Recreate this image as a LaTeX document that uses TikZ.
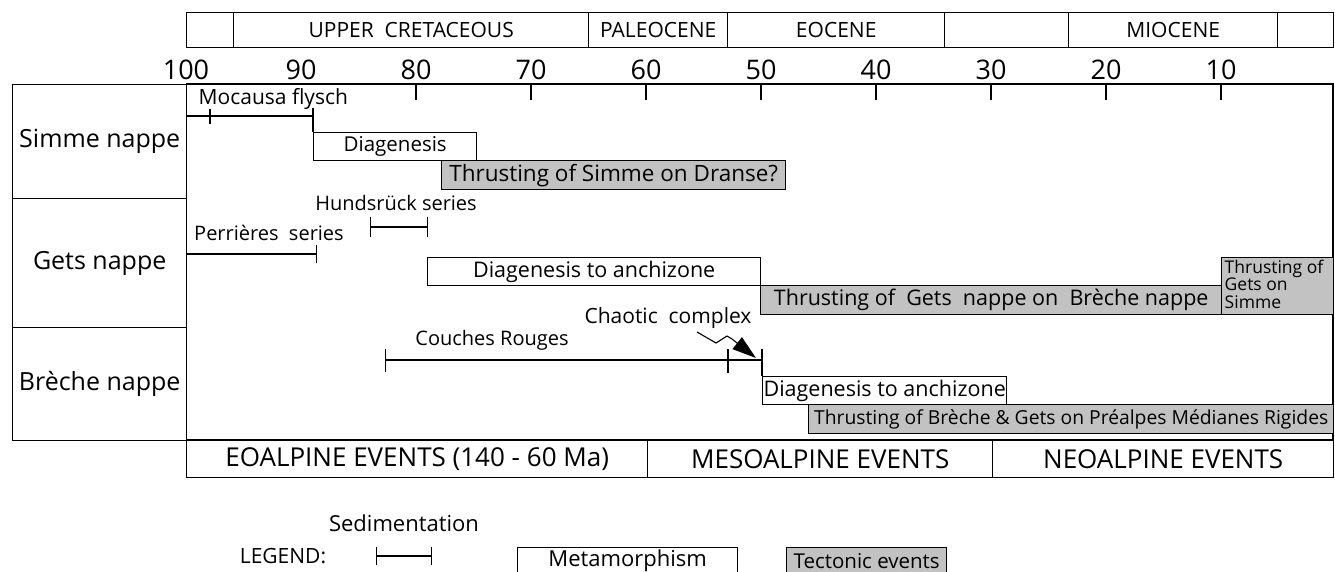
\documentclass[tikz,border=0pt]{standalone}
\usepackage{fontspec}
\setmainfont{Open Sans}
\usetikzlibrary{arrows.meta}
\definecolor{tectgray}{gray}{0.76}
\begin{document}
\begin{tikzpicture}[x=1pt,y=-1pt,line width=1.4pt,
  lab/.style={inner sep=0pt,font=\fontsize{20}{22}\selectfont},
  num/.style={inner sep=0pt,font=\fontsize{27}{29}\selectfont},
  rowlab/.style={draw,inner sep=0pt,anchor=north west,minimum width=174pt,font=\fontsize{25}{27}\selectfont},
  period/.style={draw,inner sep=0pt,anchor=north west,minimum height=35pt,font=\fontsize{21}{23}\selectfont},
  eventbox/.style={draw,inner sep=0pt,anchor=north west,minimum height=37pt,font=\fontsize{26}{28}\selectfont},
  metabox/.style={draw,fill=white,inner sep=0pt,anchor=north west,font=\fontsize{21.5}{23}\selectfont},
  tectbox/.style={metabox,fill=tectgray},
  sedbar/.style={line width=1.4pt},
  tickmark/.style={line width=1.4pt}
]
\useasboundingbox (0,0) rectangle (1335,571);

% ---- period bar ----
\node[period,minimum width=47pt] (p0) at (186,12) {};
\node[period,minimum width=355pt] (p1) at (233,12) {UPPER\ \ CRETACEOUS};
\node[period,minimum width=139pt] (p2) at (588,12) {PALEOCENE};
\node[period,minimum width=217pt] (p3) at (727,12) {EOCENE};
\node[period,minimum width=124pt] (p4) at (944,12) {};
\node[period,minimum width=209pt] (p5) at (1068,12) {MIOCENE};
\node[period,minimum width=56pt] (p6) at (1277,12) {};

% ---- age axis ----
\foreach \a in {100,90,...,10}{
  \node[num] (n\a) at ({186+(100-\a)*11.5},70) {\a};
}
\foreach \a in {80,70,...,10}{
  \draw[tickmark] ({186+(100-\a)*11.5},84) -- ({186+(100-\a)*11.5},100);
}

% ---- frame ----
\node[rowlab,minimum height=114pt] (simme) at (12,84) {Simme nappe};
\node[rowlab,minimum height=129pt] (gets) at (12,198) {Gets nappe};
\node[rowlab,minimum height=113pt] (breche) at (12,327) {Brèche nappe};
\draw (186,84) -- (1333,84) -- (1333,440) -- (186,440);

% ---- events bar ----
\node[eventbox,minimum width=461pt] (eo) at (186,440) {EOALPINE EVENTS (140 - 60 Ma)};
\node[eventbox,minimum width=345pt] (meso) at (647,440) {MESOALPINE EVENTS};
\node[eventbox,minimum width=341pt] (neo) at (992,440) {NEOALPINE EVENTS};

% ---- Simme nappe ----
\node[lab,anchor=west,font=\fontsize{21}{23}\selectfont] (moctxt) at (198,99) {Mocausa flysch};
\coordinate (moc0) at (186,116);
\coordinate (moc1) at (313,116);
\draw[sedbar] (moc0) -- (moc1);
\draw[tickmark] (210,109) -- (210,124);
\draw[tickmark] (313,108) -- (313,132);
\node[metabox,minimum width=163pt,minimum height=28pt,font=\fontsize{20.5}{22}\selectfont] (diagS) at (313,132) {Diagenesis};
\node[tectbox,minimum width=344pt,minimum height=29pt,font=\fontsize{22.5}{24}\selectfont] (thrS) at (441,160) {Thrusting of Simme on Dranse?};

% ---- Gets nappe ----
\node[lab] (hunds) at (396,203) {Hundsrück series};
\coordinate (hu0) at (370,227);
\coordinate (hu1) at (428,227);
\draw[sedbar,{Bar[width=20pt]}-{Bar[width=20pt]}] (hu0) -- (hu1);
\node[lab] (perr) at (269,233) {Perrières\ \ series};
\coordinate (pe0) at (186,254);
\coordinate (pe1) at (317,254);
\draw[sedbar,-{Bar[width=18pt]}] (pe0) -- (pe1);
\node[metabox,minimum width=333pt,minimum height=28pt] (diagG) at (427,257) {Diagenesis to anchizone};
\node[tectbox,minimum width=461pt,minimum height=29pt] (thrG) at (760,285) {Thrusting of\ \ Gets\ \ nappe on\ \ Brèche nappe};
\node[tectbox,minimum width=112pt,minimum height=57pt] (thrGS) at (1221,257) {};
\node[inner sep=0pt,anchor=north west,align=left,font=\fontsize{17.5}{17.5}\selectfont] (thrGStxt) at (1224,259) {Thrusting of\\Gets on\\Simme};

% ---- Breche nappe ----
\node[lab,font=\fontsize{21}{23}\selectfont] (chaos) at (668,318) {Chaotic\ \ complex};
\node[lab] (couches) at (492,340) {Couches Rouges};
\coordinate (cr0) at (385,360);
\coordinate (cr1) at (762,360);
\draw[sedbar,{Bar[width=23pt]}-] (cr0) -- (cr1);
\draw[tickmark] (728,349) -- (728,373);
\draw[tickmark] (762,349) -- (762,376);
\coordinate (zz0) at (697,332);
\coordinate (zztip) at (756,358);
\draw[line width=1.1pt,-{Triangle[length=24pt,width=15pt]}] (zz0) -- (716,343) -- (727,336) -- (732,339) -- (zztip);
\node[metabox,minimum width=244pt,minimum height=28pt] (diagB) at (762,376) {Diagenesis to anchizone};
\node[tectbox,minimum width=525pt,minimum height=29pt,font=\fontsize{19.3}{21}\selectfont] (thrB) at (808,404) {Thrusting of Brèche \& Gets on Préalpes Médianes Rigides};

% ---- legend ----
\node[lab,font=\fontsize{21}{23}\selectfont] (legend) at (283,556) {LEGEND:};
\node[lab,font=\fontsize{22}{24}\selectfont] (sedtxt) at (404,523) {Sedimentation};
\coordinate (le0) at (376,556);
\coordinate (le1) at (432,556);
\draw[sedbar,{Bar[width=18pt]}-{Bar[width=18pt]}] (le0) -- (le1);
\node[metabox,minimum width=220pt,minimum height=26pt,font=\fontsize{22}{24}\selectfont] (legmeta) at (517,547) {Metamorphism};
\node[tectbox,minimum width=160pt,minimum height=26pt,font=\fontsize{20.5}{22}\selectfont] (legtect) at (786,547) {Tectonic events};
\end{tikzpicture}
\end{document}
